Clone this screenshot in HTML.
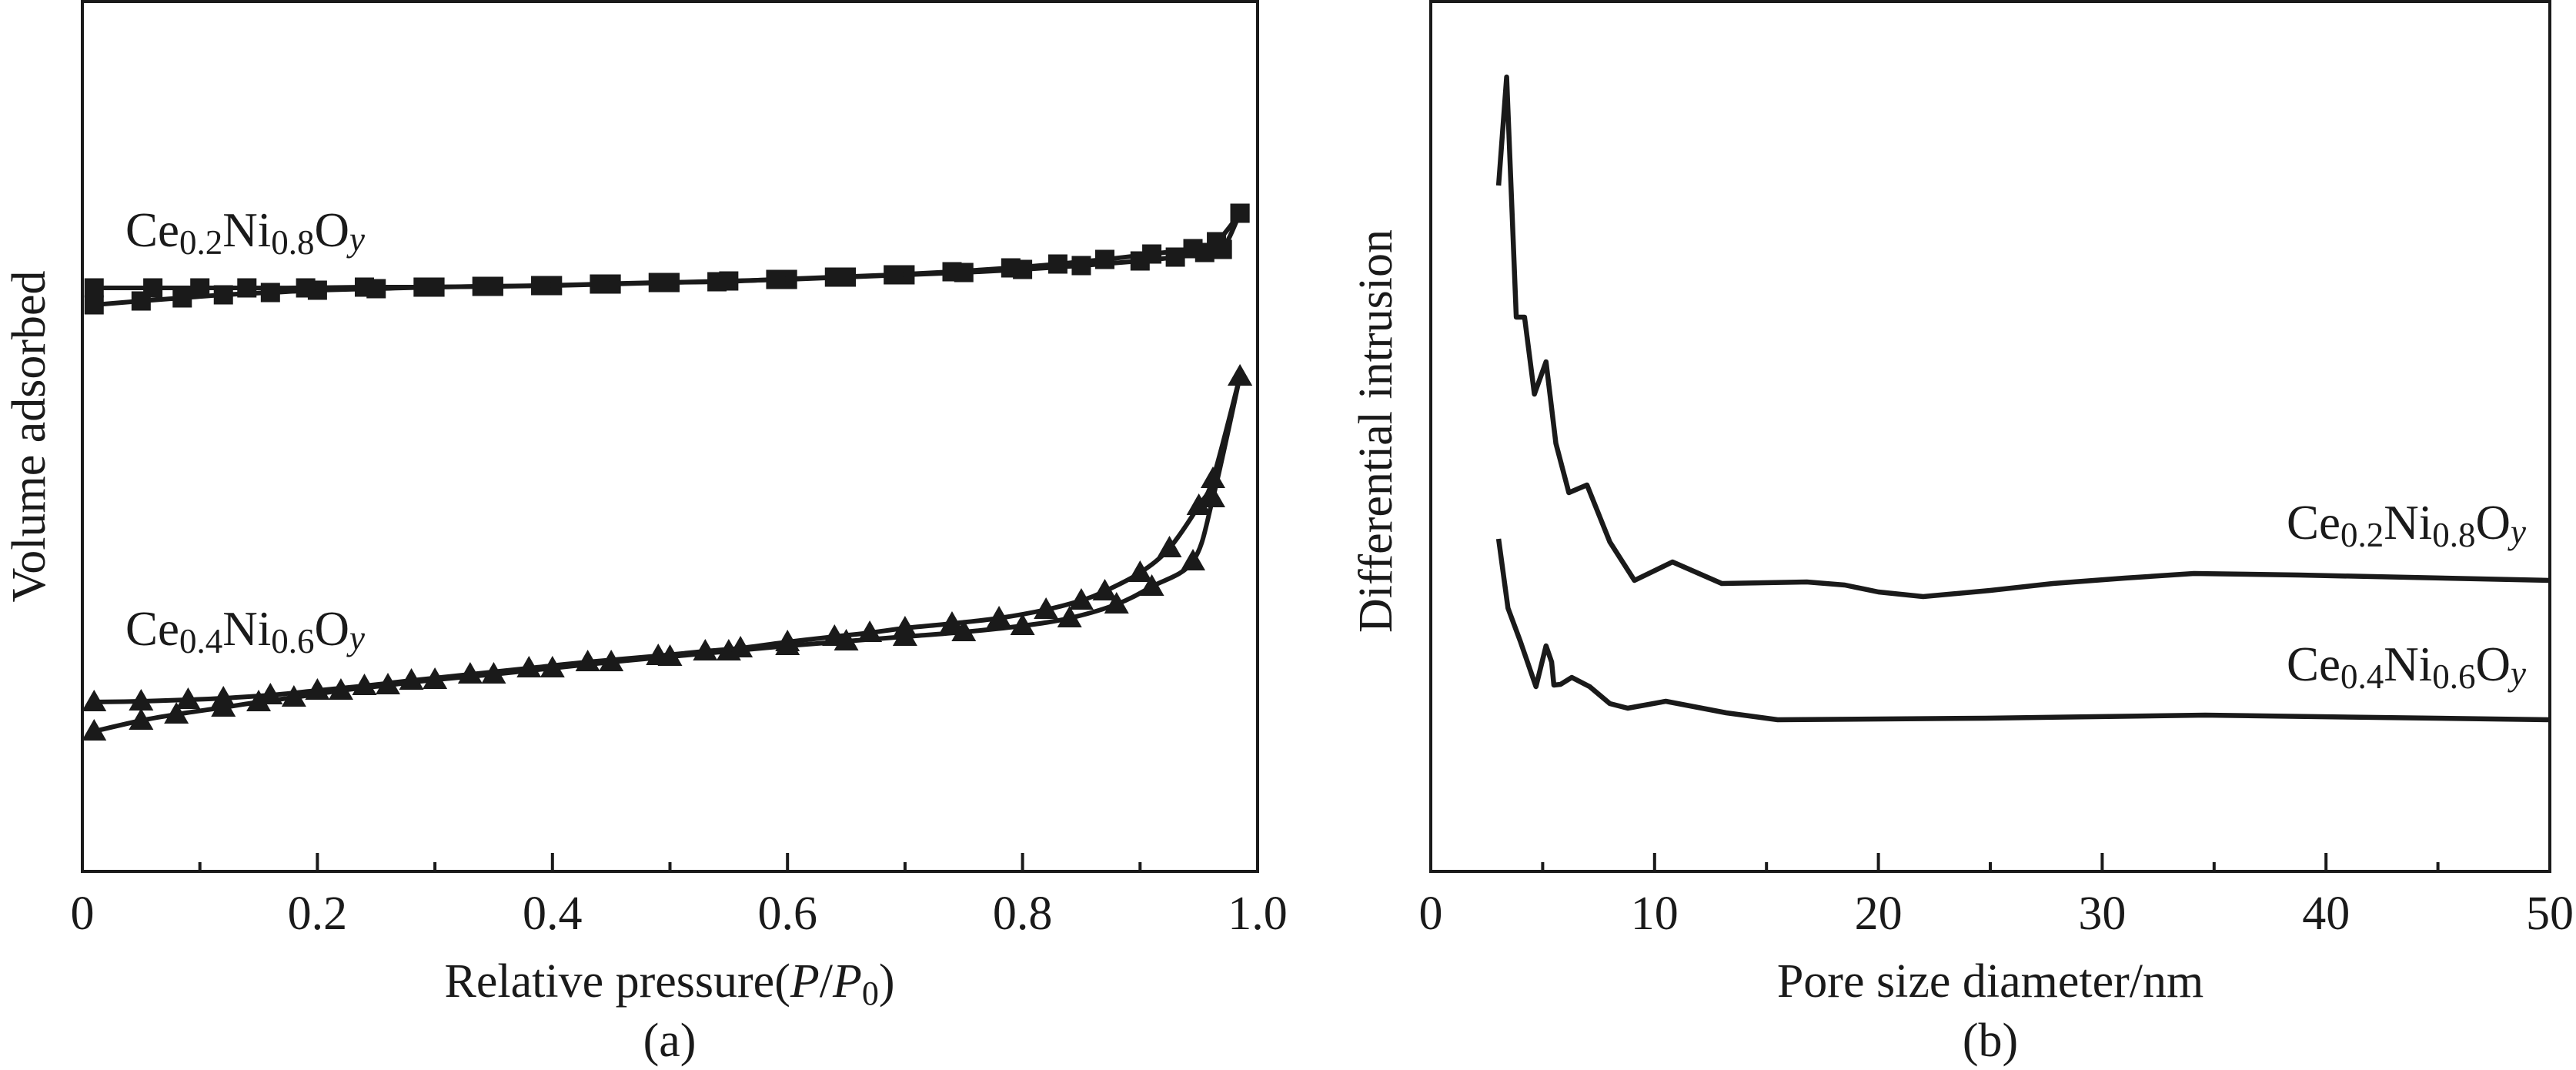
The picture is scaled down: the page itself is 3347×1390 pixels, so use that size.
<!DOCTYPE html>
<html><head><meta charset="utf-8"><style>
html,body{margin:0;padding:0;background:#fff;}
svg{display:block;font-family:"Liberation Serif",serif;}
</style></head><body>
<svg id="fig" width="3347" height="1390" viewBox="0 0 3347 1390" xmlns="http://www.w3.org/2000/svg">
<g id="pa"></g>
<g id="pb"></g>
</svg>
<script>
// Panel (a) data
const sqAdsP=[0.01,0.05,0.085,0.12,0.16,0.2,0.25,0.3,0.35,0.4,0.45,0.5,0.55,0.6,0.65,0.7,0.75,0.8,0.85,0.9,0.93,0.955,0.97,0.985];
const sqAdsV=[73.6,74.1,74.5,74.9,75.2,75.5,75.7,75.9,76.0,76.1,76.3,76.5,76.7,76.9,77.2,77.5,77.8,78.2,78.7,79.3,79.8,80.4,80.8,85.5];
const sqDesP=[0.985,0.965,0.945,0.91,0.87,0.83,0.79,0.74,0.69,0.64,0.59,0.54,0.49,0.44,0.39,0.34,0.29,0.24,0.19,0.14,0.1,0.06,0.01];
const sqDesV=[85.5,81.8,80.9,80.2,79.5,78.9,78.4,77.9,77.5,77.2,76.9,76.6,76.5,76.3,76.1,76.0,75.9,75.9,75.8,75.8,75.8,75.8,75.8];
const trAdsP=[0.01,0.05,0.08,0.12,0.15,0.18,0.22,0.26,0.3,0.35,0.4,0.45,0.5,0.55,0.6,0.65,0.7,0.75,0.8,0.84,0.88,0.91,0.945,0.962,0.985];
const trAdsV=[18.2,19.6,20.4,21.3,22.0,22.6,23.5,24.2,24.9,25.6,26.4,27.2,27.9,28.6,29.3,29.9,30.5,31.1,31.9,32.9,34.7,37.0,40.3,48.5,64.3];
const trDesP=[0.985,0.962,0.95,0.925,0.9,0.87,0.85,0.82,0.78,0.74,0.7,0.67,0.64,0.6,0.56,0.53,0.49,0.43,0.38,0.33,0.28,0.24,0.2,0.16,0.12,0.09,0.05,0.01];
const trDesV=[64.3,51.0,47.5,42.0,38.8,36.4,35.2,34.0,32.9,32.2,31.6,31.0,30.5,29.8,29.0,28.6,28.0,27.2,26.4,25.6,24.8,24.1,23.5,22.9,22.5,22.3,22.1,22.0];
// Panel (b) data
const dA_d=[3.03,3.39,3.82,4.19,4.63,5.15,5.59,6.17,6.98,8.0,9.1,10.8,13.0,16.8,18.5,20.0,22.0,25.0,27.8,31.0,34.1,38.8,50];
const dA_v=[89.1,103.2,72.0,72.0,62.0,66.2,55.6,49.2,50.2,42.8,37.8,40.2,37.4,37.6,37.2,36.3,35.7,36.5,37.4,38.1,38.7,38.5,37.8];
const dB_d=[3.03,3.45,4.0,4.7,5.15,5.4,5.5,5.8,6.3,7.1,8.0,8.8,10.5,13.2,15.5,24.8,34.6,50];
const dB_v=[43.2,34.2,29.9,24.0,29.3,27.2,24.2,24.3,25.2,24.0,21.8,21.2,22.1,20.6,19.7,19.9,20.3,19.7];

const NS='http://www.w3.org/2000/svg';
function mk(parent,tag,attrs){const e=document.createElementNS(NS,tag);for(const k in attrs)e.setAttribute(k,attrs[k]);parent.appendChild(e);return e;}
const yT=2,yB=1132;
function vy(v){return yB-v*10;}
function smooth(pts){let d='M'+pts[0][0]+','+pts[0][1];for(let i=0;i<pts.length-1;i++){const p0=pts[Math.max(0,i-1)],p1=pts[i],p2=pts[i+1],p3=pts[Math.min(pts.length-1,i+2)];const t=6;d+=' C'+(p1[0]+(p2[0]-p0[0])/t)+','+(p1[1]+(p2[1]-p0[1])/t)+' '+(p2[0]-(p3[0]-p1[0])/t)+','+(p2[1]-(p3[1]-p1[1])/t)+' '+p2[0]+','+p2[1];}return d;}
function frame(g,x0,x1){
  const r=mk(g,'rect',{x:x0,y:yT,width:x1-x0,height:yB-yT,fill:'none',stroke:'#1a1a1a','stroke-width':4});
  
  
}
function label(g,x,y,parts,name){
  const t=mk(g,'text',{x:x,y:y,'font-size':63,fill:'#1a1a1a'});
  
  
  t.innerHTML='Ce<tspan font-size="45" dy="10">'+parts[0]+'</tspan><tspan dy="-10">Ni</tspan><tspan font-size="45" dy="10">'+parts[1]+'</tspan><tspan dy="-10">O</tspan><tspan font-size="45" font-style="italic" dy="6">y</tspan>';
}
// ---- Panel a
const ga=document.getElementById('pa');
const ax0=107,ax1=1634;
function xa(p){return ax0+p*1527;}
frame(ga,ax0,ax1);
for(let i=1;i<10;i++){const x=xa(i/10);const l=mk(ga,'line',{x1:x,x2:x,y1:yB,y2:yB-(i%2==0?24:12),stroke:'#1a1a1a','stroke-width':4});

}
const ticksA=['0','0.2','0.4','0.6','0.8','1.0'];
ticksA.forEach((s,i)=>{const t=mk(ga,'text',{x:xa(i*0.2),y:1207,'font-size':62,'text-anchor':'middle',fill:'#1a1a1a'});t.textContent=s;

});
let t=mk(ga,'text',{x:870,y:1295,'font-size':62,'text-anchor':'middle',fill:'#1a1a1a'});


t.innerHTML='Relative pressure(<tspan font-style="italic">P</tspan>/<tspan font-style="italic">P</tspan><tspan font-size="44" dy="10">0</tspan><tspan dy="-10">)</tspan>';
t=mk(ga,'text',{x:870,y:1372,'font-size':62,'text-anchor':'middle',fill:'#1a1a1a'});t.textContent='(a)';


t=mk(ga,'text',{x:58,y:567,'font-size':62,'text-anchor':'middle',fill:'#1a1a1a',transform:'rotate(-90 58 567)'});t.textContent='Volume adsorbed';


function seriesA(P,V,marker,name){
  const pts=P.map((p,i)=>[xa(p),vy(V[i])]);
  const pa=mk(ga,'path',{d:smooth(pts),fill:'none',stroke:'#1a1a1a','stroke-width':6});
  
  
  pts.forEach(([x,y])=>{let m;
    if(marker==='sq')m=mk(ga,'rect',{x:x-12.5,y:y-12.5,width:25,height:25,fill:'#1a1a1a'});
    else m=mk(ga,'polygon',{points:(x)+','+(y-16)+' '+(x-16)+','+(y+12)+' '+(x+16)+','+(y+12),fill:'#1a1a1a'});
    
    });
}
seriesA(sqAdsP,sqAdsV,'sq','ce02-adsorption');
seriesA(sqDesP,sqDesV,'sq','ce02-desorption');
seriesA(trAdsP,trAdsV,'tr','ce04-adsorption');
seriesA(trDesP,trDesV,'tr','ce04-desorption');
label(ga,163,320,['0.2','0.8'],'ce02-label-a');
label(ga,163,838,['0.4','0.6'],'ce04-label-a');
// ---- Panel b
const gb=document.getElementById('pb');
const bx0=1859,bx1=3313;
function xb(d){return bx0+d/50*(bx1-bx0);}
frame(gb,bx0,bx1);
for(let i=1;i<10;i++){const x=xb(i*5);const l=mk(gb,'line',{x1:x,x2:x,y1:yB,y2:yB-(i%2==0?24:12),stroke:'#1a1a1a','stroke-width':4});

}
const ticksB=['0','10','20','30','40','50'];
ticksB.forEach((s,i)=>{const t=mk(gb,'text',{x:xb(i*10),y:1207,'font-size':62,'text-anchor':'middle',fill:'#1a1a1a'});t.textContent=s;

});
t=mk(gb,'text',{x:2586,y:1295,'font-size':62,'text-anchor':'middle',fill:'#1a1a1a'});t.textContent='Pore size diameter/nm';


t=mk(gb,'text',{x:2586,y:1372,'font-size':62,'text-anchor':'middle',fill:'#1a1a1a'});t.textContent='(b)';


t=mk(gb,'text',{x:1808,y:560,'font-size':62,'text-anchor':'middle',fill:'#1a1a1a',transform:'rotate(-90 1808 560)'});t.textContent='Differential intrusion';


function seriesB(D,V,name){
  const pts=D.map((d,i)=>[xb(d),vy(V[i])]);
  const p=mk(gb,'path',{d:'M'+pts.map(q=>q.join(',')).join(' L'),fill:'none',stroke:'#1a1a1a','stroke-width':6.5,'stroke-linejoin':'round'});
  
  
}
seriesB(dA_d,dA_v,'ce02-pore-curve');
seriesB(dB_d,dB_v,'ce04-pore-curve');
label(gb,2971,700,['0.2','0.8'],'ce02-label-b');
label(gb,2971,884,['0.4','0.6'],'ce04-label-b');
</script>
</body></html>
